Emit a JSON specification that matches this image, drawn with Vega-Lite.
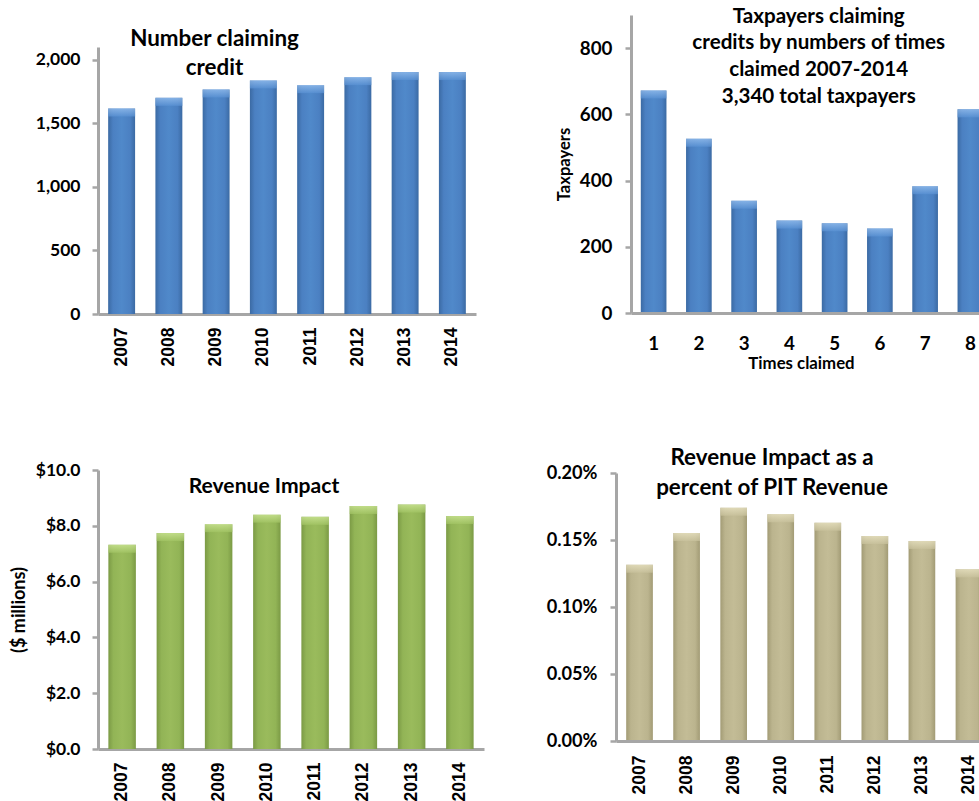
{
  "$schema": "https://vega.github.io/schema/vega-lite/v6.json",
  "background": "white",
  "padding": {"left": 10, "top": 6, "right": 0, "bottom": 0},
  "config": {
    "view": {"stroke": null},
    "axis": {
      "labelFont": "Lato", "labelFontWeight": "bold", "labelColor": "#000000",
      "titleFont": "Lato", "titleFontWeight": "bold", "titleColor": "#000000",
      "domainColor": "#a6a6a6", "domainWidth": 3,
      "tickColor": "#a6a6a6", "tickWidth": 2.5, "grid": false
    },
    "title": {"font": "Lato", "fontWeight": "bold", "color": "#000000", "anchor": "middle", "frame": "group", "baseline": "alphabetic"}
  },
  "datasets": {
    "years": [
      {"year": "2007", "claimants": 1616, "impact": 7.32, "share": 0.001316},
      {"year": "2008", "claimants": 1700, "impact": 7.74, "share": 0.001552},
      {"year": "2009", "claimants": 1766, "impact": 8.06, "share": 0.001741},
      {"year": "2010", "claimants": 1837, "impact": 8.40, "share": 0.001692},
      {"year": "2011", "claimants": 1800, "impact": 8.32, "share": 0.001629},
      {"year": "2012", "claimants": 1863, "impact": 8.71, "share": 0.001530},
      {"year": "2013", "claimants": 1903, "impact": 8.76, "share": 0.001493},
      {"year": "2014", "claimants": 1903, "impact": 8.35, "share": 0.001281}
    ],
    "times": [
      {"times": "1", "taxpayers": 672},
      {"times": "2", "taxpayers": 526},
      {"times": "3", "taxpayers": 339},
      {"times": "4", "taxpayers": 279},
      {"times": "5", "taxpayers": 271},
      {"times": "6", "taxpayers": 255},
      {"times": "7", "taxpayers": 383},
      {"times": "8", "taxpayers": 615}
    ]
  },
  "bounds": "flush",
  "columns": 2,
  "spacing": {"row": 156, "column": 132},
  "concat": [
    {
      "width": 378,
      "height": 299,
      "data": {"name": "years"},
      "title": {"text": ["Number claiming", "credit"], "fontSize": 22.4, "lineHeight": 28.7, "offset": -64, "dx": -72.5},
      "encoding": {
        "x": {
          "field": "year", "type": "ordinal",
          "scale": {"paddingInner": 0.43, "paddingOuter": 0.215},
          "axis": {"title": null, "labelAngle": -90, "labelFont": "Liberation Sans", "labelFontSize": 17.5, "labelPadding": 13, "ticks": false, "tickSize": 0}
        },
        "y": {
          "field": "claimants", "type": "quantitative",
          "scale": {"domain": [0, 2100], "range": [299, 32], "nice": false, "zero": true},
          "axis": {"title": null, "values": [0, 500, 1000, 1500, 2000], "format": ",.0f", "labelFontSize": 17.5, "tickSize": 6, "labelPadding": 12}
        }
      },
      "layer": [
        {"mark": {"type": "bar", "fill": {"gradient": "linear", "x1": 0, "y1": 0, "x2": 1, "y2": 0, "stops": [{"offset": 0, "color": "#3b6aa3"}, {"offset": 0.18, "color": "#4b80c2"}, {"offset": 0.5, "color": "#5089ca"}, {"offset": 0.82, "color": "#4b80c2"}, {"offset": 1, "color": "#3b6aa3"}]}}},
        {"mark": {"type": "tick", "size": 27, "thickness": 8, "yOffset": 4, "fill": {"gradient": "linear", "x1": 0, "y1": 0, "x2": 0, "y2": 1, "stops": [{"offset": 0, "color": "#9cc4f2"}, {"offset": 1, "color": "#5a92d4"}]}}}
      ]
    },
    {
      "width": 364,
      "height": 298,
      "data": {"name": "times"},
      "title": {"text": ["Taxpayers claiming", "credits by numbers of times", "claimed 2007-2014", "3,340 total taxpayers"], "fontSize": 20.6, "lineHeight": 26.7, "offset": -92.5, "dx": 20.7},
      "encoding": {
        "x": {
          "field": "times", "type": "ordinal",
          "scale": {"range": [15, 377], "paddingInner": 0.433, "paddingOuter": 0.2165},
          "axis": {"title": "Times claimed", "titleFontSize": 16.8, "titlePadding": 2.5, "titleX": 185, "labelAngle": 0, "labelFontSize": 18.8, "labelPadding": 21, "domain": false, "ticks": false, "tickSize": 0}
        },
        "y": {
          "field": "taxpayers", "type": "quantitative",
          "scale": {"domain": [0, 900], "nice": false},
          "axis": {
            "title": "Taxpayers", "titleFontSize": 16.6, "titlePadding": 6.5, "offset": -15,
            "values": [0, 200, 400, 600, 800], "labelFontSize": 18.8, "tickSize": 6, "labelPadding": 13,
            "grid": true, "gridColor": "#a6a6a6", "gridWidth": 3,
            "gridOpacity": {"condition": {"test": "datum.value === 0", "value": 1}, "value": 0},
            "zindex": 1
          }
        }
      },
      "layer": [
        {"mark": {"type": "bar", "clip": true, "fill": {"gradient": "linear", "x1": 0, "y1": 0, "x2": 1, "y2": 0, "stops": [{"offset": 0, "color": "#3b6aa3"}, {"offset": 0.18, "color": "#4b80c2"}, {"offset": 0.5, "color": "#5089ca"}, {"offset": 0.82, "color": "#4b80c2"}, {"offset": 1, "color": "#3b6aa3"}]}}},
        {"mark": {"type": "tick", "clip": true, "size": 25.7, "thickness": 8, "yOffset": 4, "fill": {"gradient": "linear", "x1": 0, "y1": 0, "x2": 0, "y2": 1, "stops": [{"offset": 0, "color": "#9cc4f2"}, {"offset": 1, "color": "#5a92d4"}]}}}
      ]
    },
    {
      "width": 386,
      "height": 279,
      "data": {"name": "years"},
      "title": {"text": "Revenue Impact", "fontSize": 21.1, "offset": -35.7, "dx": -27},
      "encoding": {
        "x": {
          "field": "year", "type": "ordinal",
          "scale": {"paddingInner": 0.43, "paddingOuter": 0.215},
          "axis": {"title": null, "labelAngle": -90, "labelFont": "Liberation Sans", "labelFontSize": 17.5, "labelPadding": 13, "ticks": false, "tickSize": 0}
        },
        "y": {
          "field": "impact", "type": "quantitative",
          "scale": {"domain": [0, 10], "nice": false},
          "axis": {"title": "($ millions)", "titleFontSize": 18, "titlePadding": 7, "values": [0, 2, 4, 6, 8, 10], "format": "$.1f", "labelFontSize": 17.5, "tickSize": 6, "labelPadding": 12}
        }
      },
      "layer": [
        {"mark": {"type": "bar", "fill": {"gradient": "linear", "x1": 0, "y1": 0, "x2": 1, "y2": 0, "stops": [{"offset": 0, "color": "#7b9a45"}, {"offset": 0.18, "color": "#92b456"}, {"offset": 0.5, "color": "#9abb5c"}, {"offset": 0.82, "color": "#92b456"}, {"offset": 1, "color": "#7b9a45"}]}}},
        {"mark": {"type": "tick", "size": 27.5, "thickness": 8, "yOffset": 4, "fill": {"gradient": "linear", "x1": 0, "y1": 0, "x2": 0, "y2": 1, "stops": [{"offset": 0, "color": "#d2eb9c"}, {"offset": 1, "color": "#a3c565"}]}}}
      ]
    },
    {
      "width": 364,
      "height": 271,
      "data": {"name": "years"},
      "title": {"text": ["Revenue Impact as a", "percent of PIT Revenue"], "fontSize": 22.4, "lineHeight": 29.5, "offset": -36, "dx": -26},
      "encoding": {
        "x": {
          "field": "year", "type": "ordinal",
          "scale": {"range": [0, 376.5], "paddingInner": 0.433, "paddingOuter": 0.2165},
          "axis": {"title": null, "labelAngle": -90, "labelFont": "Liberation Sans", "labelFontSize": 17.5, "labelPadding": 14, "domain": false, "ticks": false, "tickSize": 0}
        },
        "y": {
          "field": "share", "type": "quantitative",
          "scale": {"domain": [0, 0.002], "range": [271, 3], "nice": false},
          "axis": {
            "title": null, "values": [0, 0.0005, 0.001, 0.0015, 0.002], "format": ".2%",
            "labelFontSize": 18.2, "tickSize": 6, "labelPadding": 13,
            "grid": true, "gridColor": "#a6a6a6", "gridWidth": 3,
            "gridOpacity": {"condition": {"test": "datum.value === 0", "value": 1}, "value": 0},
            "zindex": 1
          }
        }
      },
      "layer": [
        {"mark": {"type": "bar", "clip": true, "fill": {"gradient": "linear", "x1": 0, "y1": 0, "x2": 1, "y2": 0, "stops": [{"offset": 0, "color": "#a29b75"}, {"offset": 0.18, "color": "#bbb48e"}, {"offset": 0.5, "color": "#c3bc96"}, {"offset": 0.82, "color": "#bbb48e"}, {"offset": 1, "color": "#a29b75"}]}}},
        {"mark": {"type": "tick", "clip": true, "size": 26.7, "thickness": 8, "yOffset": 4, "fill": {"gradient": "linear", "x1": 0, "y1": 0, "x2": 0, "y2": 1, "stops": [{"offset": 0, "color": "#ece6c6"}, {"offset": 1, "color": "#c9c29d"}]}}}
      ]
    }
  ]
}
